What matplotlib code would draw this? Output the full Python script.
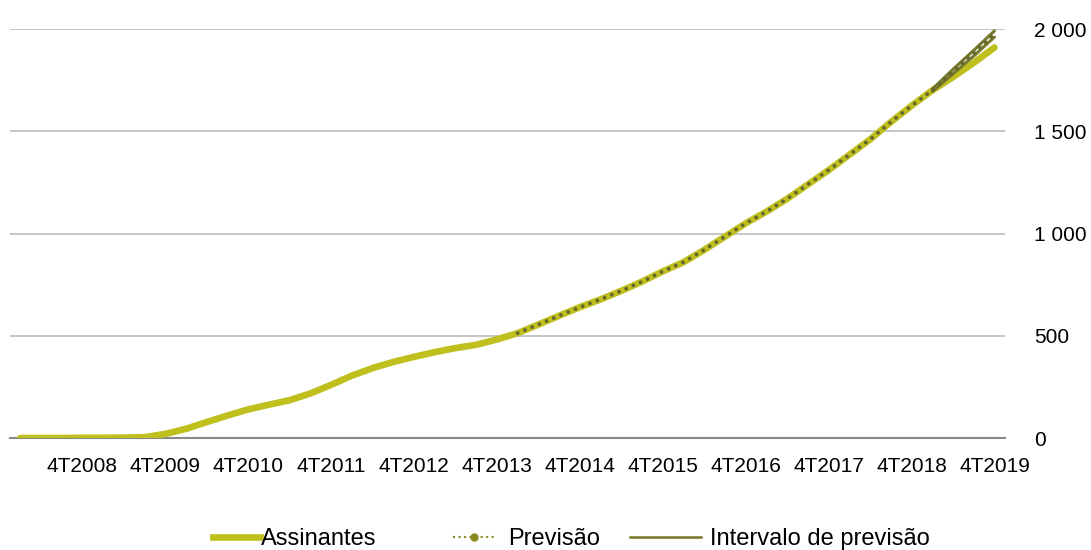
import matplotlib.pyplot as plt
from matplotlib.lines import Line2D

plt.rcParams['font.family'] = ['Liberation Sans', 'DejaVu Sans']

# categorias trimestrais 1T2008 .. 4T2019
quarters = [f"{q}T{y}" for y in range(2008, 2020) for q in range(1, 5)]

# assinantes (milhares)
assinantes = [0, 0, 0, 1, 1, 2, 4, 20, 45, 78, 110, 140,
              163, 185, 218, 260, 305, 342, 372, 397, 420, 440, 456, 482,
              513, 555, 598, 640, 678, 720, 765, 815, 860, 920, 985, 1050,
              1107, 1170, 1240, 1310, 1385, 1460, 1545, 1625, 1700, 1765, 1835, 1910]

# previsão a partir de 1T2014
prev_start = 24
previsao = [513, 555, 598, 640, 678, 720, 765, 815, 860, 920, 985, 1050,
            1107, 1170, 1240, 1310, 1385, 1460, 1545, 1625, 1700, 1792, 1882, 1976]

# intervalo de previsão (4T2018 .. 4T2019)
int_start = 44
int_sup = [1706, 1803, 1896, 1991]
int_inf = [1694, 1781, 1868, 1961]

tick_labels = [q for q in quarters if q.startswith("4T")]
tick_pos = [i for i, q in enumerate(quarters) if q.startswith("4T")]

c_ass = '#BFBF1E'
c_prev = '#66662E'
c_int = '#77772B'

fig = plt.figure(figsize=(10.91, 5.5), dpi=100)
ax = fig.add_axes([0.009, 0.2036, 0.912, 0.7436])

x = list(range(len(quarters)))
ax.plot(x, assinantes, color=c_ass, lw=4.8, solid_capstyle='round', zorder=3)

xi = list(range(int_start, int_start + len(int_sup)))
ax.plot(xi, int_sup, color=c_int, lw=2.2, solid_capstyle='round', zorder=4)
ax.plot(xi, int_inf, color=c_int, lw=2.2, solid_capstyle='round', zorder=4)

xp = list(range(prev_start, prev_start + len(previsao)))
ax.plot(xp, previsao, color=c_prev, lw=2.8, linestyle=(0, (0.01, 2.0)),
        dash_capstyle='round', zorder=5)

ax.set_xlim(-0.5, len(quarters) - 0.5)
ax.set_ylim(0, 2000)
ax.set_yticks([0, 500, 1000, 1500, 2000])
ax.set_yticklabels(['0', '500', '1 000', '1 500', '2 000'])
ax.yaxis.tick_right()
ax.set_xticks(tick_pos)
ax.set_xticklabels(tick_labels)
ax.tick_params(axis='both', length=0, labelsize=15, colors='black')
ax.tick_params(axis='x', pad=14)
ax.tick_params(axis='y', pad=21)
for lab in ax.get_yticklabels():
    lab.set_horizontalalignment('left')

ax.grid(axis='y', color='#C0C0C0', lw=1.3)
ax.set_axisbelow(True)
for s in ['top', 'right', 'left']:
    ax.spines[s].set_visible(False)
ax.spines['bottom'].set_color('#888888')
ax.spines['bottom'].set_linewidth(1.5)
ax.spines['bottom'].set_zorder(2)

# legenda: três entradas posicionadas como no original
items = [
    (Line2D([], [], color=c_ass, lw=4.8), 'Assinantes', 213, 2.0, 0.05),
    (Line2D([], [], color='#8A8A1E', lw=1.5, linestyle=':', marker='o', markersize=5),
     'Previsão', 453, 1.8, 0.55),
    (Line2D([], [], color=c_int, lw=1.8), 'Intervalo de previsão', 630, 3.0, 0.37),
]
for h, lab, px, hl, tp in items:
    fig.legend([h], [lab], loc='center left', bbox_to_anchor=(px / 1091, 1 - 539 / 550),
               frameon=False, fontsize=17, handlelength=hl, handletextpad=tp,
               borderpad=0, borderaxespad=0, numpoints=1)

fig.savefig('out.png', dpi=100)
